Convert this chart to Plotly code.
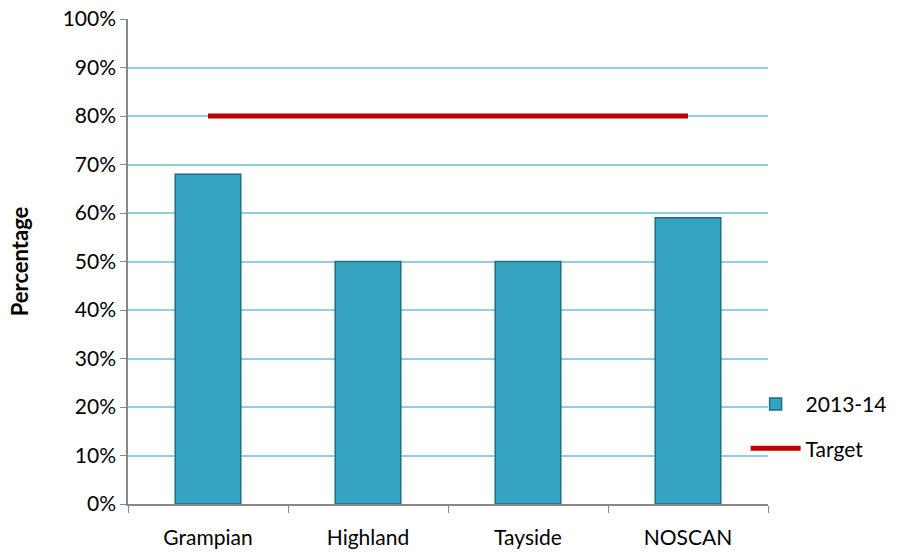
import plotly.graph_objects as go

categories = ["Grampian", "Highland", "Tayside", "NOSCAN"]
values_2013_14 = [68, 50, 50, 59]
target = [80, 80, 80, 80]
y_ticks = [0, 10, 20, 30, 40, 50, 60, 70, 80, 90, 100]
y_tick_labels = [f"{v}%" for v in y_ticks]

fig = go.Figure()
fig.add_trace(go.Bar(
    x=categories, y=values_2013_14, name="2013-14", legendgroup="a",
    marker=dict(color="#35A3C2", line=dict(color="#1E6F82", width=1.5)),
    width=0.41,
))
fig.add_trace(go.Scatter(
    x=categories, y=target, name="Target", mode="lines", legendgroup="b",
    line=dict(color="#C00000", width=5),
))

fig.update_layout(
    width=909, height=556,
    margin=dict(l=128, r=141, t=19, b=52),
    plot_bgcolor="white", paper_bgcolor="white",
    font=dict(family="Lato, Open Sans, sans-serif", size=20, color="#000000"),
    showlegend=True,
    legend=dict(x=0.965, xref="paper", y=0.16, yanchor="middle", xanchor="left",
                font=dict(size=21), bgcolor="rgba(0,0,0,0)", tracegroupgap=14,
                itemwidth=50),
    bargap=0.59,
)
fig.update_yaxes(
    range=[0, 100], tickvals=y_ticks, ticktext=y_tick_labels,
    showgrid=True, gridcolor="#8FD0E2", gridwidth=1.5,
    showline=True, linecolor="#888888", linewidth=1.5,
    ticks="outside", ticklen=6, tickcolor="#888888",
    tickfont=dict(size=21), automargin=False,
    title=dict(text="<b>Percentage</b>", font=dict(size=22), standoff=28),
    zeroline=False,
)
fig.update_xaxes(
    showline=True, linecolor="#888888", linewidth=1.5,
    ticks="outside", ticklen=7, tickcolor="#888888", tickson="boundaries",
    showgrid=False, tickfont=dict(size=21), ticklabelstandoff=14, automargin=False,
)

fig.write_html("out.html")
